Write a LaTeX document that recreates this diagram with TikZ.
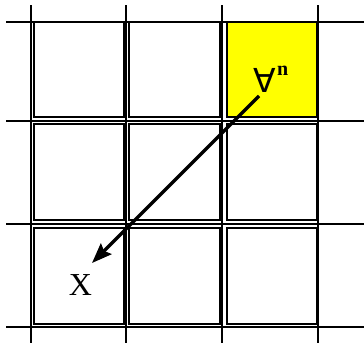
\documentclass[tikz,border=0pt]{standalone}
\usepackage{fontspec}
\setmainfont{Liberation Serif}
\newfontfamily\symfam{DejaVu Sans}
\usetikzlibrary{arrows.meta}
\definecolor{cellyellow}{HTML}{FFFF00}

\begin{document}
\begin{tikzpicture}[x=1pt, y=-1pt,
   gridline/.style={line width=1.3pt},
   cellbox/.style={draw, line width=1.1pt},
   arr/.style={line width=3.4pt, -{Stealth[length=20pt, width=15pt, inset=3pt]}}]
  \useasboundingbox (0,0) rectangle (364,343);
  % grid
  \foreach \gx in {31,126,222,318}
    \draw[gridline] (\gx,5) -- (\gx,343);
  \foreach \gy in {22,121,224,327}
    \draw[gridline] (6,\gy) -- (364,\gy);
  % cells
  \fill[cellyellow] (227,22) rectangle (317,117);
  \foreach \xa/\xb in {34/124,129/220,227/317}
    \foreach \ya/\yb in {22/117,124/220,228/324}
      \draw[cellbox] (\xa,\ya) rectangle (\xb,\yb);
  % labels
  \node[font=\fontsize{33}{33}\selectfont\symfam, inner sep=0pt] (qn) at (265,80) {∀};
  \node[font=\fontsize{20}{20}\selectfont\bfseries, inner sep=0pt, anchor=base west]
    (sup) at (277,75) {n};
  \node[font=\fontsize{32}{32}\selectfont, inner sep=0pt] (xl) at (80.5,285) {X};
  \coordinate (from) at (259,96);
  \coordinate (to) at (92,263);
  \draw[arr] (from) -- (to);
\end{tikzpicture}
\end{document}
